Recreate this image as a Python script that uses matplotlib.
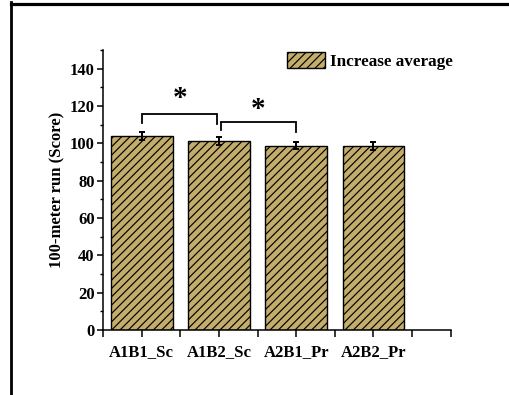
import matplotlib
matplotlib.use("Agg")
import matplotlib.pyplot as plt
from matplotlib.lines import Line2D
from matplotlib.patches import Patch
from matplotlib.ticker import MultipleLocator

plt.rcParams["font.family"] = ["Liberation Serif", "DejaVu Serif"]
plt.rcParams["font.weight"] = "bold"
plt.rcParams["hatch.linewidth"] = 0.85

groups = ["A1B1_Sc", "A1B2_Sc", "A2B1_Pr", "A2B2_Pr"]
means = [103.9, 101.3, 98.7, 98.7]
errors = [2.2, 2.0, 1.8, 2.2]
legend_label = "Increase average"
ylabel = "100-meter run (Score)"

# significance brackets: (x_left, x_right, top, left_leg_bottom, right_leg_bottom, star_x, star_y)
brackets = [
    (1.0, 1.97, 115.7, 110.7, 110.2, 1.5, 124.0),
    (2.03, 3.0, 111.4, 107.3, 106.3, 2.51, 118.2),
]

bar_color = "#C4AD6B"

fig = plt.figure(figsize=(5.09, 3.95), dpi=100)
ax = fig.add_axes([103 / 509, 1 - 330 / 395, (450.7 - 103) / 509, (330 - 50) / 395])

x = list(range(1, len(groups) + 1))
ax.bar(x, means, width=0.8, color=bar_color, edgecolor="black", linewidth=1.0,
       hatch="////", label=legend_label, zorder=2)
ax.errorbar(x, means, yerr=errors, fmt="none", ecolor="black", elinewidth=1.4,
            capsize=2.5, capthick=1.4, zorder=3)

for xl, xr, top, lb, rb, sx, sy in brackets:
    ax.plot([xl, xl, xr, xr], [lb, top, top, rb], color="black", lw=1.3,
            solid_joinstyle="miter", zorder=4)
    ax.text(sx, sy, "*", ha="center", va="center", fontsize=21, fontweight="bold")

ax.set_xlim(0.5, 5.0)
ax.set_ylim(0, 150)
ax.set_xticks(x)
ax.set_xticklabels(groups)
ax.xaxis.set_minor_locator(MultipleLocator(0.5))
ax.yaxis.set_major_locator(MultipleLocator(20))
ax.yaxis.set_minor_locator(MultipleLocator(10))
ax.set_yticks(range(0, 141, 20))

for side in ["top", "right"]:
    ax.spines[side].set_visible(False)
for side in ["left", "bottom"]:
    ax.spines[side].set_linewidth(1.1)

ax.tick_params(axis="x", which="both", direction="out", length=5, width=1.1,
               labelsize=12, pad=5)
ax.tick_params(axis="y", which="major", direction="out", length=4, width=1.1,
               labelsize=12, pad=2)
ax.tick_params(axis="y", which="minor", direction="out", length=2.2, width=1.0)
ax.set_ylabel(ylabel, fontsize=12, fontweight="bold", labelpad=3)

handle = Patch(facecolor=bar_color, edgecolor="black", hatch="////", linewidth=1.0)
ax.legend([handle], [legend_label], loc="upper left",
          bbox_to_anchor=(286.7 / 509, 1 - 52.0 / 395), bbox_transform=fig.transFigure,
          frameon=False, handlelength=2.25, handleheight=1.1,
          handletextpad=0.3, borderpad=0, borderaxespad=0,
          prop={"weight": "bold", "size": 12.3})

# outer frame lines (top and left)
fig.add_artist(Line2D([11 / 509, 1.0], [1 - 3.5 / 395, 1 - 3.5 / 395],
                      transform=fig.transFigure, color="black", lw=2.3))
fig.add_artist(Line2D([11 / 509, 11 / 509], [0, 1 - 2 / 395],
                      transform=fig.transFigure, color="black", lw=2.0))

fig.savefig("out.png", dpi=100)
